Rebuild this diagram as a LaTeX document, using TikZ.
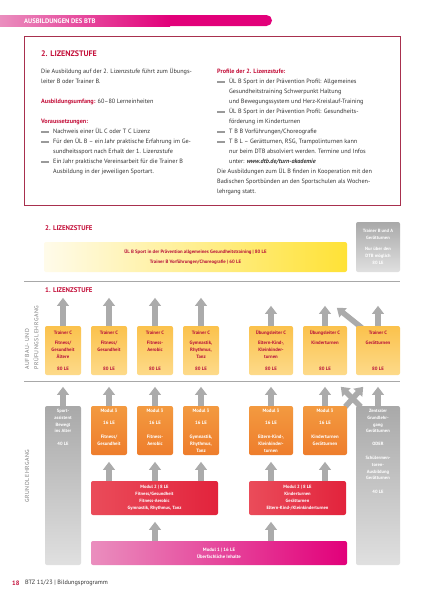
\documentclass[tikz,border=0pt]{standalone}
\usepackage{fontspec}
\setmainfont{PT Sans}
\usetikzlibrary{arrows.meta,calc}
\pgfdeclarelayer{bottom}
\pgfdeclarelayer{behind}
\pgfsetlayers{bottom,behind,main}
\definecolor{mag}{HTML}{E2007A}
\definecolor{pinkl}{HTML}{EA8EBE}
\definecolor{hred}{HTML}{C4103A}
\definecolor{dred}{HTML}{B8123A}
\definecolor{framec}{HTML}{A8304E}
\definecolor{txt}{HTML}{333333}
\definecolor{lgrey}{HTML}{A8A8A8}
\definecolor{agrey}{HTML}{ABABAB}
\definecolor{dashgrey}{HTML}{9A9A9A}
\definecolor{ylt}{HTML}{FBC24C}
\definecolor{ylb}{HTML}{FDDA8A}
\definecolor{ort}{HTML}{F39A40}
\definecolor{orb}{HTML}{EE7D2C}
\definecolor{rdl}{HTML}{EA4C5A}
\definecolor{rdr}{HTML}{E2233C}
\definecolor{gyt}{HTML}{A9A9A9}
\definecolor{gyb}{HTML}{E0E0E0}
\definecolor{ywl}{HTML}{FFFBEA}
\definecolor{ywr}{HTML}{FFE236}
\definecolor{vgrey}{HTML}{7A7A7A}
\newcommand{\vstack}[4]{\parbox[c][#1][s]{#2}{\centering\rule{0pt}{3.6pt}#3\par\vfill #4\par}}
\newcommand{\tstack}[3]{\parbox[c][#1][t]{#2}{\centering\rule{0pt}{3.6pt}#3\par}}
\begin{document}
\begin{tikzpicture}[x=1pt,y=-1pt,
  body/.style={font=\fontsize{6.2}{10}\selectfont, anchor=west, inner sep=0, text height=4.4pt, text depth=1.2pt, text=txt},
  hd/.style={font=\bfseries\fontsize{6.8}{8}\selectfont, anchor=west, inner sep=0, text=hred},
  box/.style={inner sep=0, rounded corners=2pt, align=center, font=\bfseries\fontsize{4.8}{7}\selectfont},
  tbox/.style={box, top color=ylt, bottom color=ylb, text=dred, minimum height=49pt},
  obox/.style={box, top color=ort, bottom color=orb, text=white, minimum height=49pt},
  gbox/.style={box, top color=gyt, bottom color=gyb, text=white, font=\bfseries\fontsize{4.6}{6.7}\selectfont},
  rbox/.style={box, left color=rdl, right color=rdr, text=white, font=\bfseries\fontsize{4.6}{7}\selectfont, minimum height=34pt},
  arr/.style={line width=5.5pt, draw=agrey, -{Triangle[width=11.5pt,length=8pt]}},
  vlab/.style={font=\fontsize{5.8}{7}\selectfont\addfontfeature{LetterSpace=10}, inner sep=0, text=vgrey, rotate=90},
  bul/.style={fill=dashgrey}
]
\useasboundingbox (0,0) rectangle (425,600);
\begin{pgfonlayer}{bottom}
\fill[white] (0,0) rectangle (425,600);
\end{pgfonlayer}

% header bar
\fill[mag, rounded corners=5.5pt] (140,15) rectangle (272,26);
\shade[left color=pinkl, right color=mag] (0,15) rectangle (170,26);
\node[anchor=west, inner sep=0, text=white, font=\bfseries\fontsize{6.6}{8}\selectfont] (hdr) at (24,21) {AUSBILDUNGEN DES BTB};

% frame
\draw[framec, line width=0.8pt] (24,36) rectangle (400,205);
\node[hd, font=\bfseries\fontsize{8}{10}\selectfont] (h2a) at (41,54) {2. LIZENZSTUFE};

% left column
\node[body] (L1) at (41,72) {Die Ausbildung auf der 2. Lizenzstufe führt zum Übungs-};
\node[body] (L2) at (41,82) {leiter B oder Trainer B.};
\node[body] (L3) at (41,102) {{\color{hred}\bfseries Ausbildungsumfang:} 60–80 Lerneinheiten};
\node[body, text=hred, font=\bfseries\fontsize{6.2}{10}\selectfont] (L4) at (41,122) {Voraussetzungen:};
\fill[bul] (41,131.2) rectangle (49,132.8);
\node[body] (L5) at (53,132) {Nachweis einer ÜL C oder T C Lizenz};
\fill[bul] (41,141.2) rectangle (49,142.8);
\node[body] (L6) at (53,142) {Für den ÜL B – ein Jahr praktische Erfahrung im Ge-};
\node[body] (L7) at (53,152) {sundheitssport nach Erhalt der 1. Lizenzstufe};
\fill[bul] (41,161.2) rectangle (49,162.8);
\node[body] (L8) at (53,162) {Ein Jahr praktische Vereinsarbeit für die Trainer B};
\node[body] (L9) at (53,172) {Ausbildung in der jeweiligen Sportart.};

% right column
\node[body, text=hred, font=\bfseries\fontsize{6.2}{10}\selectfont] (R1) at (217,72) {Profile der 2. Lizenzstufe:};
\fill[bul] (217,81.2) rectangle (225,82.8);
\node[body] (R2) at (229,82) {ÜL B Sport in der Prävention Profil: Allgemeines};
\node[body] (R3) at (229,92) {Gesundheitstraining Schwerpunkt Haltung};
\node[body] (R4) at (229,102) {und Bewegungssystem und Herz-Kreislauf-Training};
\fill[bul] (217,111.2) rectangle (225,112.8);
\node[body] (R5) at (229,112) {ÜL B Sport in der Prävention Profil: Gesundheits-};
\node[body] (R6) at (229,122) {förderung im Kinderturnen};
\fill[bul] (217,131.2) rectangle (225,132.8);
\node[body] (R7) at (229,132) {T B B Vorführungen/Choreografie};
\fill[bul] (217,141.2) rectangle (225,142.8);
\node[body] (R8) at (229,142) {T B L – Gerätturnen, RSG, Trampolinturnen kann};
\node[body] (R9) at (229,152) {nur beim DTB absolviert werden. Termine und Infos};
\node[body] (R10) at (229,162) {unter: {\bfseries\itshape www.dtb.de/turn-akademie}};
\node[body] (R11) at (217,172) {Die Ausbildungen zum ÜL B finden in Kooperation mit den};
\node[body] (R12) at (217,182) {Badischen Sportbünden an den Sportschulen als Wochen-};
\node[body] (R13) at (217,192) {lehrgang statt.};

% diagram headings and lines
\node[hd] (h2b) at (45,228) {2. LIZENZSTUFE};
\node[hd] (h1) at (45,290) {1. LIZENZSTUFE};
\draw[lgrey, line width=0.8pt] (24,281) -- (400,281);
\draw[lgrey, line width=0.8pt] (24,381) -- (400,381);

\node[vlab, anchor=west] (va1) at (27,370) {AUFBAU- UND};
\node[vlab, anchor=west] (va2) at (36,370) {PRÜFUNGSLEHRGANG};
\node[vlab] (vg) at (27,476) {GRUNDLEHRGANG};

% 2. Lizenzstufe boxes
\node[box, left color=ywl, right color=ywr, text=dred, minimum width=303pt, minimum height=30pt,
      font=\bfseries\fontsize{4.8}{10}\selectfont] (yb) at (195.5,257)
  {ÜL B Sport in der Prävention allgemeines Gesundheitstraining | 80 LE\\Trainer B Vorführungen/Choreografie | 60 LE};
\node[gbox, minimum width=44pt, minimum height=50pt, font=\bfseries\fontsize{4.6}{7}\selectfont] (gb) at (378,247)
  {Trainer B und A\\Gerätturnen\\[4pt]Nur über den\\DTB möglich\\80 LE};

% 1. Lizenzstufe boxes
\node[tbox, minimum width=36pt] (t1) at (63,350.5) {\vstack{40pt}{34pt}{Trainer C\\[3pt]Fitness/\\Gesundheit\\Ältere}{80 LE}};
\node[tbox, minimum width=36pt] (t2) at (109,350.5) {\vstack{40pt}{34pt}{Trainer C\\[3pt]Fitness/\\Gesundheit}{80 LE}};
\node[tbox, minimum width=36pt] (t3) at (155,350.5) {\vstack{40pt}{34pt}{Trainer C\\[3pt]Fitness-\\Aerobic}{80 LE}};
\node[tbox, minimum width=36pt] (t4) at (201,350.5) {\vstack{40pt}{34pt}{Trainer C\\[3pt]Gymnastik,\\Rhythmus,\\Tanz}{80 LE}};
\node[tbox, minimum width=44pt] (t5) at (271,350.5) {\vstack{40pt}{42pt}{Übungsleiter C\\[3pt]Eltern-Kind-,\\Kleinkinder-\\turnen}{80 LE}};
\node[tbox, minimum width=44pt] (t6) at (325,350.5) {\vstack{40pt}{42pt}{Übungsleiter C\\[3pt]Kinderturnen}{80 LE}};
\node[tbox, minimum width=44pt] (t7) at (378,350.5) {\vstack{40pt}{42pt}{Trainer C\\[3pt]Gerätturnen}{80 LE}};

% Grundlehrgang
\node[gbox, minimum width=36pt, minimum height=159pt] (g1) at (63,485.5)
  {\tstack{153pt}{34pt}{Sport-\\assistent\\Bewegt\\ins Alter\\[6pt]40 LE}};
\node[gbox, minimum width=44pt, minimum height=159pt] (z) at (378,485.5)
  {\tstack{153pt}{42pt}{Zentraler\\Grundlehr-\\gang\\Gerätturnen\\[6.3pt]ODER\\[7.3pt]Schülermen-\\toren-\\Ausbildung\\Gerätturnen\\[7.3pt]40 LE}};
\node[obox, minimum width=36pt] (m3a) at (109,430.5) {\tstack{43pt}{34pt}{Modul 3\\[5pt]16 LE\\[7pt]Fitness/\\Gesundheit}};
\node[obox, minimum width=36pt] (m3b) at (155,430.5) {\tstack{43pt}{34pt}{Modul 3\\[5pt]16 LE\\[7pt]Fitness-\\Aerobic}};
\node[obox, minimum width=36pt] (m3c) at (201,430.5) {\tstack{43pt}{34pt}{Modul 3\\[5pt]16 LE\\[7pt]Gymnastik,\\Rhythmus,\\Tanz}};
\node[obox, minimum width=44pt] (m3d) at (271,430.5) {\tstack{43pt}{42pt}{Modul 3\\[5pt]16 LE\\[7pt]Eltern-Kind-,\\Kleinkinder-\\turnen}};
\node[obox, minimum width=44pt] (m3e) at (325,430.5) {\tstack{43pt}{42pt}{Modul 3\\[5pt]16 LE\\[7pt]Kinderturnen\\Gerätturnen}};

\node[rbox, minimum width=127pt] (m2l) at (154.5,498)
  {Modul 2 | 8 LE\\Fitness/Gesundheit\\Fitness-Aerobic\\Gymnastik, Rhythmus, Tanz};
\node[rbox, minimum width=97pt] (m2r) at (297.5,498)
  {Modul 2 | 8 LE\\Kinderturnen\\Gerätturnen\\Eltern-Kind-/Kleinkinderturnen};
\node[box, left color=pinkl, right color=mag, text=white, minimum width=256pt, minimum height=24pt] (m1) at (219,553)
  {Modul 1 | 16 LE\\Überfachliche Inhalte};

% arrows (behind boxes)
\begin{pgfonlayer}{behind}
\foreach \n in {t1,t2,t3,t4} \draw[arr] (\n.north) -- ++(0,-28);
\foreach \n in {t5,t6,t7} \draw[arr] (\n.north) -- ++(0,-20);
\draw[arr] ($(t7.north west)+(6,2)$) -- ++(-25,-20);
\foreach \n in {g1,m3a,m3b,m3c,m3d,m3e,z} \draw[arr] (\n.north) -- ++(0,-19);
\draw[arr] ($(m3e.north east)+(-2,1)$) -- ++(18,-20);
\draw[arr] ($(z.north west)+(5,1)$) -- ++(-20,-20);
\draw[arr] (m2l.north -| m3a) -- ++(0,-19);
\draw[arr] (m2l.north -| m3b) -- ++(0,-19);
\draw[arr] (m2l.north -| m3c) -- ++(0,-19);
\draw[arr] (m2r.north -| m3d) -- ++(0,-19);
\draw[arr] (m2r.north -| m3e) -- ++(0,-19);
\draw[arr] (m1.north -| m3b) -- ++(0,-19);
\draw[arr] (m1.north -| m3d) -- ++(0,-19);
\end{pgfonlayer}

% footer
\node[anchor=west, inner sep=0, text=hred, font=\bfseries\fontsize{6.4}{8}\selectfont] (pg) at (12,583) {18};
\node[anchor=west, inner sep=0, text=txt, font=\fontsize{6.2}{8}\selectfont] (ft) at (25,583) {BTZ 11/23 | Bildungsprogramm};
\end{tikzpicture}
\end{document}
